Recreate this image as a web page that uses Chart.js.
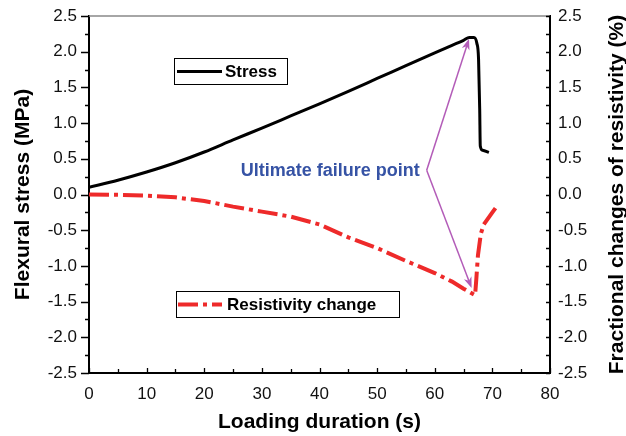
<!DOCTYPE html>
<html>
<head>
<meta charset="utf-8">
<script src="https://cdn.jsdelivr.net/npm/chart.js@4"></script>
<style>
  html, body { margin: 0; padding: 0; background: #fff; }
  #wrap { width: 626px; height: 436px; }
</style>
</head>
<body>
<div id="wrap"><canvas id="chart" width="626" height="436"></canvas></div>
<script>
// Flexural stress and resistivity change vs. loading duration
const stressX = [0, 5, 10, 15, 20, 25, 30, 35, 40, 45, 50, 55, 60, 63, 65, 66, 66.8, 67.3, 67.6, 67.8, 67.9, 68.3, 69.4];
const stressY = [0.1, 0.2, 0.315, 0.445, 0.595, 0.765, 0.93, 1.1, 1.27, 1.445, 1.625, 1.805, 1.985, 2.09, 2.16, 2.2, 2.2, 2.12, 1.9, 1.2, 0.68, 0.62, 0.59];

const resistX = [0, 5, 10, 15, 20, 25, 30, 35, 40, 45, 50, 55, 60, 63, 65, 67, 67.2, 67.5, 68, 68.5, 70, 71];
const resistY = [0, -0.005, -0.015, -0.04, -0.09, -0.17, -0.24, -0.31, -0.42, -0.6, -0.75, -0.93, -1.1, -1.22, -1.32, -1.41, -1.2, -0.85, -0.55, -0.42, -0.25, -0.14];

const xTicks = [0, 10, 20, 30, 40, 50, 60, 70, 80];
const yTicks = [-2.5, -2.0, -1.5, -1.0, -0.5, 0.0, 0.5, 1.0, 1.5, 2.0, 2.5];

// annotation: label anchor and arrow targets (data units)
const failureLabel = 'Ultimate failure point';
const failureFrom = { x: 58.6, y: 0.34 };
const failureTargets = [{ x: 65.95, y: 2.18 }, { x: 66.4, y: -1.31 }];

const rightTitle = 'Fractional changes of resistivity (%)';

const FONT = '"Liberation Sans", Arial, sans-serif';
const RED = '#ee2a2a';
const DASH = [20, 5, 4, 5];

function toPoints(xs, ys) {
  return xs.map((x, i) => ({ x: x, y: ys[i] }));
}

// keep tick-label overhang from pushing the plot area around
function noPad(s) {
  s.paddingTop = 0;
  s.paddingBottom = 0;
  s.paddingLeft = 0;
  s.paddingRight = 0;
}

const extras = {
  id: 'extras',
  afterDraw(chart) {
    const ctx = chart.ctx;
    const a = chart.chartArea;
    const sx = chart.scales.x, sy = chart.scales.y;
    ctx.save();

    // top frame line (grey)
    ctx.strokeStyle = '#888';
    ctx.lineWidth = 1.5;
    ctx.beginPath();
    ctx.moveTo(a.left, a.top);
    ctx.lineTo(a.right, a.top);
    ctx.stroke();

    // tick marks
    ctx.strokeStyle = '#000';
    ctx.lineWidth = 1.3;
    ctx.beginPath();
    for (let v = -2.5; v <= 2.5001; v += 0.25) {
      const py = Math.round(sy.getPixelForValue(v)) + 0.5;
      const major = Math.abs(v * 2 - Math.round(v * 2)) < 1e-6;
      // left axis: outward
      ctx.moveTo(a.left - (major ? 8 : 4), py);
      ctx.lineTo(a.left, py);
      // right axis: inward
      ctx.moveTo(a.right, py);
      ctx.lineTo(a.right - 4, py);
    }
    for (let v = 0; v <= 80; v += 5) {
      const px = Math.round(sx.getPixelForValue(v)) + 0.5;
      const major = v % 10 === 0;
      ctx.moveTo(px, a.bottom);
      ctx.lineTo(px, a.bottom - (major ? 5 : 4));
    }
    ctx.stroke();

    // right axis title, reading bottom to top
    ctx.save();
    ctx.translate(617, (a.top + a.bottom) / 2);
    ctx.rotate(-Math.PI / 2);
    ctx.fillStyle = '#000';
    ctx.font = 'bold 21px ' + FONT;
    ctx.textAlign = 'center';
    ctx.textBaseline = 'middle';
    ctx.fillText(rightTitle, 0, 0);
    ctx.restore();

    // legend boxes
    const ds = chart.data.datasets;
    const boxes = [
      { ds: ds[0], x: 174, y: 58, w: 113, h: 26, lx0: 177, lx1: 222, tx: 225 },
      { ds: ds[1], x: 176, y: 291, w: 223, h: 26, lx0: 178, lx1: 222, tx: 227 }
    ];
    boxes.forEach(b => {
      ctx.lineWidth = 1;
      ctx.strokeStyle = '#000';
      ctx.setLineDash([]);
      ctx.strokeRect(b.x + 0.5, b.y + 0.5, b.w, b.h);
      const cy = b.y + b.h / 2 + 0.5;
      ctx.strokeStyle = b.ds.borderColor;
      ctx.lineWidth = b.ds.borderWidth;
      ctx.setLineDash(b.ds.borderDash || []);
      ctx.beginPath();
      ctx.moveTo(b.lx0, cy);
      ctx.lineTo(b.lx1, cy);
      ctx.stroke();
      ctx.setLineDash([]);
      ctx.fillStyle = '#000';
      ctx.font = 'bold 17px ' + FONT;
      ctx.textAlign = 'left';
      ctx.textBaseline = 'middle';
      ctx.fillText(b.ds.label, b.tx, cy + 1);
    });

    // annotation text and arrows
    const fx = sx.getPixelForValue(failureFrom.x);
    const fy = sy.getPixelForValue(failureFrom.y);
    ctx.fillStyle = '#3653a5';
    ctx.font = 'bold 18px ' + FONT;
    ctx.textAlign = 'right';
    ctx.textBaseline = 'middle';
    ctx.fillText(failureLabel, fx - 7, fy + 1);

    ctx.strokeStyle = '#b35cb8';
    ctx.fillStyle = '#b35cb8';
    ctx.lineWidth = 1.5;
    failureTargets.forEach(t => {
      const tx = sx.getPixelForValue(t.x);
      const ty = sy.getPixelForValue(t.y);
      const ang = Math.atan2(ty - fy, tx - fx);
      ctx.beginPath();
      ctx.moveTo(fx, fy);
      ctx.lineTo(tx - Math.cos(ang) * 4, ty - Math.sin(ang) * 4);
      ctx.stroke();
      const L = 11, W = 4;
      ctx.beginPath();
      ctx.moveTo(tx, ty);
      ctx.lineTo(tx - L * Math.cos(ang) + W * Math.sin(ang), ty - L * Math.sin(ang) - W * Math.cos(ang));
      ctx.lineTo(tx - 0.7 * L * Math.cos(ang), ty - 0.7 * L * Math.sin(ang));
      ctx.lineTo(tx - L * Math.cos(ang) - W * Math.sin(ang), ty - L * Math.sin(ang) + W * Math.cos(ang));
      ctx.closePath();
      ctx.fill();
    });

    ctx.restore();
  }
};

const tickFont = { family: FONT, size: 17 };
const titleFont = { family: FONT, size: 21, weight: 'bold' };
const yTickLabels = yTicks.map(v => v.toFixed(1));

new Chart(document.getElementById('chart').getContext('2d'), {
  type: 'line',
  data: {
    datasets: [{
      label: 'Stress',
      data: toPoints(stressX, stressY),
      borderColor: '#000',
      borderWidth: 3,
      pointRadius: 0,
      cubicInterpolationMode: 'monotone',
      yAxisID: 'y'
    }, {
      label: 'Resistivity change',
      data: toPoints(resistX, resistY),
      borderColor: RED,
      borderWidth: 4,
      borderDash: DASH,
      borderCapStyle: 'butt',
      pointRadius: 0,
      tension: 0,
      yAxisID: 'y2'
    }]
  },
  options: {
    responsive: false,
    animation: false,
    layout: { padding: { top: 16, left: 0, right: 0, bottom: 0 } },
    plugins: { legend: { display: false }, tooltip: { enabled: false } },
    scales: {
      x: {
        type: 'linear',
        min: 0,
        max: 80,
        afterBuildTicks: s => { s.ticks = xTicks.map(v => ({ value: v })); },
        afterFit: s => { s.height = 63; noPad(s); },
        grid: { display: false, drawTicks: false },
        border: { color: '#000', width: 2 },
        ticks: { font: tickFont, color: '#111', padding: 11, maxRotation: 0 },
        title: { display: true, text: 'Loading duration (s)', font: titleFont, color: '#000', padding: { top: 0, bottom: 1 } }
      },
      y: {
        position: 'left',
        min: -2.5,
        max: 2.5,
        afterBuildTicks: s => { s.ticks = yTicks.map(v => ({ value: v })); },
        afterFit: s => { s.width = 89; noPad(s); },
        grid: { display: false, drawTicks: false },
        border: { color: '#000', width: 2 },
        ticks: { font: tickFont, color: '#111', padding: 12, callback: v => yTickLabels[yTicks.indexOf(v)] },
        title: { display: true, text: 'Flexural stress (MPa)', font: titleFont, color: '#000', padding: { top: 11, bottom: 0 } }
      },
      y2: {
        position: 'right',
        min: -2.5,
        max: 2.5,
        afterBuildTicks: s => { s.ticks = yTicks.map(v => ({ value: v })); },
        afterFit: s => { s.width = 76; noPad(s); },
        grid: { display: false, drawTicks: false },
        border: { color: '#000', width: 2 },
        ticks: { font: tickFont, color: '#111', padding: 8, callback: v => yTickLabels[yTicks.indexOf(v)] },
        title: { display: false }
      }
    }
  },
  plugins: [extras]
});
</script>
</body>
</html>
